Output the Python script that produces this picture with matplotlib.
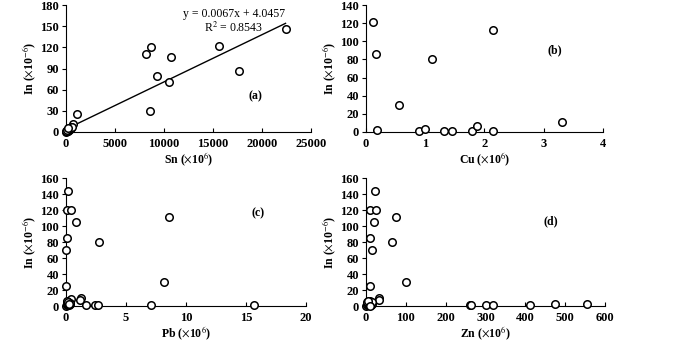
import matplotlib.pyplot as plt
import numpy as np

# === data ===
sn_x = [8140, 8710, 9320, 8540, 10500, 10750, 15600, 17660, 22400, 1150, 680,
        40, 80, 120, 160, 200, 240, 280, 320, 360, 400, 450, 500, 550, 600, 20, 100, 180]
sn_y = [111, 121, 80, 30, 71, 107, 122, 87, 146, 25, 11,
        0.5, 1, 1.5, 2, 2.5, 3, 3.5, 4, 4.5, 5, 5.5, 6, 6.5, 7, 2, 3.5, 5]

cu_x = [0.12, 0.17, 0.18, 0.56, 0.9, 1.0, 1.11, 1.32, 1.46, 1.79, 1.88, 2.15, 2.15, 3.32]
cu_y = [121.5, 86.5, 1.8, 30, 0.7, 3, 81, 1.5, 0.7, 1.5, 6.6, 112, 0.7, 10.7]

pb_x = [0.14, 0.08, 0.44, 0.8, 0.08, 0.0, 0.0, 2.71, 8.59, 8.17, 7.09, 15.65,
        1.27, 1.19, 0.44, 1.66, 2.44, 2.66,
        0.02, 0.06, 0.1, 0.14, 0.18, 0.22, 0.26, 0.3, 0.34, 0.05, 0.12, 0.2, 0.28]
pb_y = [144.5, 120.5, 120.5, 105, 85, 70, 25.5, 80.5, 111, 29.5, 1.7, 0.8,
        10.5, 7.5, 9, 1.2, 1.2, 1.2,
        0.5, 1.5, 2.5, 3.5, 4.5, 2, 1, 3, 4, 5.5, 6, 5, 2]

zn_x = [21.8, 11, 25, 20, 9, 16, 64, 74, 100, 9, 32, 33,
        261, 263, 301, 318, 411, 476, 556,
        1, 2, 3, 4, 5, 6, 7, 8, 9, 10, 11, 12, 13, 14, 15, 3, 6, 9]
zn_y = [144.5, 120.5, 120.5, 105, 85, 70, 80.5, 111, 29.5, 25.5, 10.5, 7,
        0.8, 0.8, 0.8, 0.8, 0.8, 2, 2,
        0.5, 2, 1, 3, 2, 4, 1.5, 3.5, 5, 2.5, 6, 4, 1, 3, 5.5, 5, 6.5, 0.5]

slope, intercept = 0.0067, 4.0457

# === setup ===
plt.rcParams['font.family'] = ['Liberation Serif', 'DejaVu Serif']
plt.rcParams['mathtext.fontset'] = 'stix'

fig = plt.figure(figsize=(7, 3.41), dpi=100)

panels = [
    # x, y, rect, xlim, xticks, ylim, yticks, xlabel, tag, tag position
    (sn_x, sn_y, [0.0943, 0.613, 0.350, 0.372], 25000, np.arange(0, 25001, 5000),
     180, np.arange(0, 181, 30), 'Sn', '(a)', (19300, 50)),
    (cu_x, cu_y, [0.523, 0.613, 0.338, 0.372], 4, np.arange(0, 5, 1),
     140, np.arange(0, 141, 20), 'Cu', '(b)', (3.19, 90)),
    (pb_x, pb_y, [0.0943, 0.1026, 0.343, 0.375], 20, np.arange(0, 21, 5),
     160, np.arange(0, 161, 20), 'Pb', '(c)', (16, 116)),
    (zn_x, zn_y, [0.523, 0.1026, 0.341, 0.375], 600, np.arange(0, 601, 100),
     160, np.arange(0, 161, 20), 'Zn', '(d)', (464, 106)),
]

for x, y, rect, xmax, xt, ymax, yt, el, tag, tagpos in panels:
    ax = fig.add_axes(rect)
    ax.plot(x, y, 'o', mfc='white', mec='black', mew=1.1, ms=5.4,
            linestyle='none', clip_on=False, zorder=3)
    ax.set_xlim(0, xmax)
    ax.set_ylim(0, ymax)
    ax.set_xticks(xt)
    ax.set_yticks(yt)
    ax.spines['top'].set_visible(False)
    ax.spines['right'].set_visible(False)
    ax.tick_params(axis='x', direction='in', length=3, labelsize=9, pad=4)
    ax.tick_params(axis='y', direction='out', length=3, labelsize=9, pad=2)
    for lab in ax.get_xticklabels() + ax.get_yticklabels():
        lab.set_fontweight('bold')
    ax.set_xlabel(el + r' ($\times$10$^{6}$)', fontsize=8.5, fontweight='bold', labelpad=0.5)
    ax.set_ylabel(r'In ($\times$10$^{-6}$)', fontsize=8.5, fontweight='bold', labelpad=2)
    ax.text(tagpos[0], tagpos[1], tag, fontsize=8.5, fontweight='bold', ha='center', va='center')

    if tag == '(a)':
        xl = np.array([min(x), max(x)])
        ax.plot(xl, slope * xl + intercept, color='black', lw=1.0, zorder=2)
        ax.text(17100, 168, 'y = 0.0067x + 4.0457', fontsize=8.5, ha='center', va='center')
        ax.text(17100, 148, r'R$^{2}$ = 0.8543', fontsize=8.5, ha='center', va='center')

plt.savefig('out.png', dpi=100)
